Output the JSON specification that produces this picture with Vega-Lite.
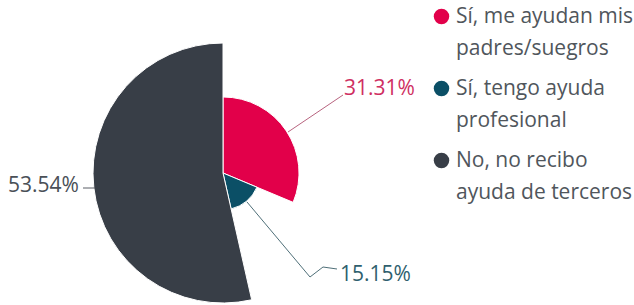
{
  "$schema": "https://vega.github.io/schema/vega-lite/v6.json",
  "autosize": "none",
  "width": 446,
  "height": 264,
  "padding": {"left": 0, "top": 41, "right": 188, "bottom": 0},
  "background": "white",
  "config": {
    "view": {"stroke": null},
    "font": "Open Sans",
    "style": {"guide-label": {"lineHeight": 32}}
  },
  "datasets": {
    "slices": [
      {"cat": "Sí, me ayudan mis padres/suegros", "value": 31.31, "o": 1},
      {"cat": "Sí, tengo ayuda profesional", "value": 15.15, "o": 2},
      {"cat": "No, no recibo ayuda de terceros", "value": 53.54, "o": 3}
    ],
    "leaders": [
      {"lbl": "31.31%", "seq": 1, "px": 65, "py": 41},
      {"lbl": "31.31%", "seq": 2, "px": 120, "py": 78},
      {"lbl": "15.15%", "seq": 1, "px": 24, "py": -29},
      {"lbl": "15.15%", "seq": 2, "px": 87, "py": -104},
      {"lbl": "15.15%", "seq": 3, "px": 100, "py": -94},
      {"lbl": "15.15%", "seq": 4, "px": 114, "py": -96},
      {"lbl": "53.54%", "seq": 1, "px": -128, "py": -15},
      {"lbl": "53.54%", "seq": 2, "px": -140, "py": -15}
    ],
    "labels": [
      {"lbl": "31.31%", "px": 121, "py": 78},
      {"lbl": "15.15%", "px": 117, "py": -108},
      {"lbl": "53.54%", "px": -215, "py": -19}
    ]
  },
  "layer": [
    {
      "data": {"name": "slices"},
      "mark": {"type": "arc", "stroke": "white", "strokeWidth": 1},
      "encoding": {
        "theta": {"field": "value", "type": "quantitative", "stack": true},
        "radius": {"field": "value", "type": "quantitative", "scale": {"type": "linear", "zero": true, "domain": [0, 53.54], "range": [0, 130]}},
        "order": {"field": "o", "type": "quantitative"},
        "color": {
          "field": "cat", "type": "nominal",
          "scale": {"domain": ["Sí, me ayudan mis padres/suegros", "Sí, tengo ayuda profesional", "No, no recibo ayuda de terceros"], "range": ["#E2004A", "#0B4F66", "#383E47"]},
          "legend": {
            "orient": "none", "legendX": 431, "legendY": -35, "title": null,
            "symbolType": "circle", "symbolSize": 240, "symbolStrokeWidth": 0,
            "labelFontSize": 21, "labelColor": "#50565c", "labelLimit": 400, "labelOffset": 4,
            "rowPadding": 18,
            "labelExpr": "datum.label == 'Sí, me ayudan mis padres/suegros' ? ['Sí, me ayudan mis', 'padres/suegros'] : datum.label == 'Sí, tengo ayuda profesional' ? ['Sí, tengo ayuda', 'profesional'] : ['No, no recibo', 'ayuda de terceros']"
          }
        }
      }
    },
    {
      "data": {"name": "leaders"},
      "mark": {"type": "line", "strokeWidth": 1},
      "encoding": {
        "x": {"field": "px", "type": "quantitative", "scale": {"domain": [-223, 223], "nice": false}, "axis": null},
        "y": {"field": "py", "type": "quantitative", "scale": {"domain": [-132, 132], "nice": false}, "axis": null},
        "order": {"field": "seq", "type": "quantitative"},
        "color": {"field": "lbl", "type": "nominal", "scale": {"domain": ["31.31%", "15.15%", "53.54%"], "range": ["#B8647F", "#4F6F78", "#5a5f66"]}, "legend": null}
      }
    },
    {
      "data": {"name": "labels"},
      "mark": {"type": "text", "align": "left", "baseline": "alphabetic", "fontSize": 21},
      "encoding": {
        "x": {"field": "px", "type": "quantitative", "scale": {"domain": [-223, 223], "nice": false}, "axis": null},
        "y": {"field": "py", "type": "quantitative", "scale": {"domain": [-132, 132], "nice": false}, "axis": null},
        "text": {"field": "lbl"},
        "color": {"field": "lbl", "type": "nominal", "scale": {"domain": ["31.31%", "15.15%", "53.54%"], "range": ["#CF2F62", "#2F5F6E", "#4A5057"]}, "legend": null}
      }
    }
  ],
  "resolve": {"scale": {"color": "independent"}}
}
